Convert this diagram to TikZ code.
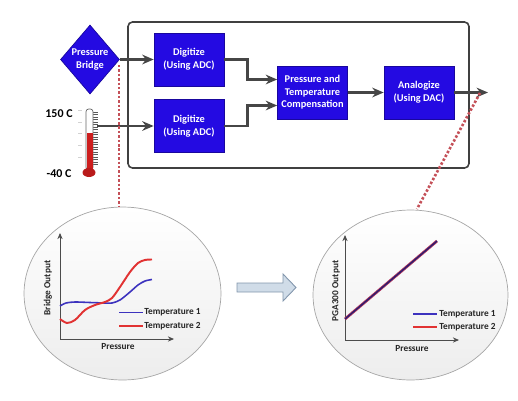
\documentclass[tikz,border=0pt]{standalone}
\usepackage{fontspec}
\setmainfont{Carlito}
\usetikzlibrary{positioning,shapes.geometric,arrows.meta}
\definecolor{blockblue}{RGB}{36,10,226}
\definecolor{flowgray}{RGB}{70,70,70}
\definecolor{dotred}{RGB}{196,80,88}
\definecolor{plotblue}{RGB}{60,50,190}
\definecolor{plotred}{RGB}{225,50,50}
\definecolor{thermored}{RGB}{205,30,30}
\definecolor{bigfill}{RGB}{208,220,232}
\definecolor{bigedge}{RGB}{130,150,172}
\tikzset{
  block/.style={draw=blockblue!70!black, fill=blockblue, text=white, font=\fontsize{5.9}{7.2}\selectfont\bfseries, align=center, inner sep=0pt, minimum width=1.4cm, minimum height=1.06cm},
  flow/.style={draw=flowgray, line width=1.35pt, -{Stealth[length=6.5pt,width=5.5pt]}},
  probe/.style={draw=dotred, line width=1.5pt, dash pattern=on 1.4pt off 1.1pt},
  bubble/.style={ellipse, draw=gray!70, top color=white, bottom color=gray!14, inner sep=0pt},
  axis/.style={draw=black!70, line width=0.5pt, -{Stealth[length=3.5pt,width=3pt]}},
  plotlabel/.style={font=\fontsize{5.3}{6}\selectfont\bfseries, text=black!85, inner sep=0pt},
  templabel/.style={font=\fontsize{6.8}{8}\selectfont\bfseries, inner sep=0pt}
}
\begin{document}
\begin{tikzpicture}[x=0.02cm, y=-0.02cm]
    \useasboundingbox (0,0) rectangle (518,400);

    % Caja exterior
    \node[draw=black!75, line width=0.9pt, rounded corners=2.5pt, minimum width=6.82cm, minimum height=2.92cm] (board) at (298.5,95) {};

    % Bloques
    \node[block, diamond, minimum width=1.18cm, minimum height=1.38cm] (bridge) at (90,59.5) {Pressure\\Bridge};
    \node[block] (digA) at (189,59.5) {Digitize\\(Using ADC)};
    \node[block] (digB) at (189,126) {Digitize\\(Using ADC)};
    \node[block] (comp) at (312.5,92.5) {Pressure and\\Temperature\\Compensation};
    \node[block] (dac) at (419,92.5) {Analogize\\(Using DAC)};
    \coordinate (thermo) at (97,126);
    \coordinate (out) at (488,92.5);

    % Termometro
    \foreach \y in {110,122,133,145,157} {
        \draw[gray!35, line width=0.5pt] (78,\y) -- (82,\y);
    }
    \foreach \y in {112,114.5,...,166} {
        \draw[gray!70!black, line width=0.3pt] (93,\y) -- (98,\y);
    }
    \draw[gray!80!black, line width=0.4pt, fill=white, rounded corners=1.5pt] (86,170) -- (86,109) -- (93,109) -- (93,170) -- cycle;
    \fill[thermored] (86.5,133) rectangle (92.5,170);
    \fill[thermored!90!black] (89,172.5) ellipse (6.5 and 4.5);
    \node[templabel] (hot) at (59,114) {150 C};
    \node[templabel] (cold) at (59,174) {-40 C};

    % Flechas
    \draw[flow] (bridge.east) -- (digA.west);
    \draw[flow] (thermo) -- (digB.west);
    \draw[flow] (digA.east) -- ++(23,0) |- ([yshift=0.26cm]comp.west);
    \draw[flow] (digB.east) -- ++(23,0) |- ([yshift=-0.26cm]comp.west);
    \draw[flow] (comp.east) -- (dac.west);
    \draw[flow] (dac.east) -- (out);

    % Globos
    \node[bubble, minimum width=3.94cm, minimum height=3.46cm] (plotA) at (122.5,293.5) {};
    \node[bubble, minimum width=3.9cm, minimum height=3.4cm] (plotB) at (410.5,295) {};

    % Lineas punteadas
    \coordinate (tapA) at (119,65);
    \coordinate (tapB) at (480,93);
    \draw[probe] (tapA) -- (tapA |- plotA.north);
    \draw[probe] (tapB) -- (417,209);

    % Flecha grande
    \draw[draw=bigedge, line width=0.5pt, fill=bigfill] (237,283) -- (283,283) -- (283,274) -- (296,287.5) -- (283,301) -- (283,292) -- (237,292) -- cycle;

    % Grafica puente
    \coordinate (oA) at (60,339);
    \draw[axis] (oA) -- (60,233);
    \draw[axis] (oA) -- (174,339);
    \draw[plotblue, line width=0.9pt] plot[smooth] coordinates {(60,306) (66,303) (75,302) (90,302.5) (105,303) (112,303) (120,300) (130,292) (138,285) (145,281) (152,279.5)};
    \draw[plotred, line width=1.1pt] plot[smooth] coordinates {(60,319) (67,323) (75,320) (85,310) (95,305) (105,302) (112,298) (120,287) (130,272) (138,263) (145,260) (152,259.5)};
    \node[plotlabel, rotate=90] (ylabA) at (48,288) {Bridge Output};
    \node[plotlabel] (xlabA) at (118,347) {Pressure};
    \draw[plotblue, line width=0.9pt] (119,312.5) -- (143,312.5);
    \draw[plotred, line width=1.1pt] (119,326) -- (143,326);
    \node[plotlabel, anchor=west] (legA1) at (144,312.5) {Temperature 1};
    \node[plotlabel, anchor=west] (legA2) at (144,326) {Temperature 2};

    % Grafica salida
    \coordinate (oB) at (345,340);
    \draw[axis] (oB) -- (345,235);
    \draw[axis] (oB) -- (459,340);
    \draw[plotred!70!plotblue, line width=1.6pt] (345,319) -- (437,241);
    \draw[plotblue!60!black, line width=0.7pt] (345,319) -- (437,241);
    \node[plotlabel, rotate=90] (ylabB) at (336,291) {PGA300 Output};
    \node[plotlabel] (xlabB) at (412,349) {Pressure};
    \draw[plotblue, line width=0.9pt] (413,314) -- (437,314);
    \draw[plotred, line width=1.1pt] (413,327) -- (437,327);
    \node[plotlabel, anchor=west] (legB1) at (439,314) {Temperature 1};
    \node[plotlabel, anchor=west] (legB2) at (439,327) {Temperature 2};
\end{tikzpicture}
\end{document}
